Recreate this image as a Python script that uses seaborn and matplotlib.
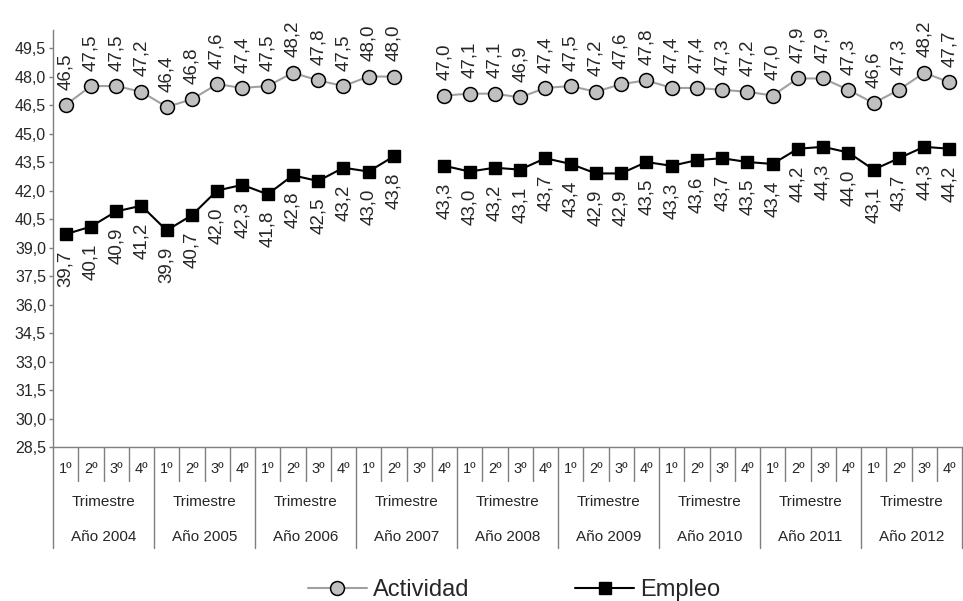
import matplotlib
matplotlib.use("Agg")
import matplotlib.pyplot as plt
from matplotlib.lines import Line2D
from matplotlib.ticker import FuncFormatter
import numpy as np
import pandas as pd
import seaborn as sns

# datos
anios = ['Año 2004', 'Año 2005', 'Año 2006', 'Año 2007', 'Año 2008',
         'Año 2009', 'Año 2010', 'Año 2011', 'Año 2012']
trimestres = ['1º', '2º', '3º', '4º']
actividad = [46.5, 47.5, 47.5, 47.2, 46.4, 46.8, 47.6, 47.4,
             47.5, 48.2, 47.8, 47.5, 48.0, 48.0, np.nan, 47.0,
             47.1, 47.1, 46.9, 47.4, 47.5, 47.2, 47.6, 47.8,
             47.4, 47.4, 47.3, 47.2, 47.0, 47.9, 47.9, 47.3,
             46.6, 47.3, 48.2, 47.7]
empleo = [39.7, 40.1, 40.9, 41.2, 39.9, 40.7, 42.0, 42.3,
          41.8, 42.8, 42.5, 43.2, 43.0, 43.8, np.nan, 43.3,
          43.0, 43.2, 43.1, 43.7, 43.4, 42.9, 42.9, 43.5,
          43.3, 43.6, 43.7, 43.5, 43.4, 44.2, 44.3, 44.0,
          43.1, 43.7, 44.3, 44.2]

sns.set_theme(style="white")
plt.rcParams['font.family'] = ['Liberation Sans', 'DejaVu Sans']

n = len(actividad)
pos = np.arange(n)
# tramo: se corta la linea donde falta el dato
tramo = np.cumsum(np.isnan(actividad))
df = pd.concat([
    pd.DataFrame({'pos': pos, 'valor': actividad, 'serie': 'Actividad', 'tramo': tramo}),
    pd.DataFrame({'pos': pos, 'valor': empleo, 'serie': 'Empleo', 'tramo': tramo}),
]).dropna()

fig = plt.figure(figsize=(9.63, 6.01), dpi=100)
ax = fig.add_axes([53 / 963, 1 - 447 / 601, 909 / 963, 417 / 601])

gris = '#7f7f7f'
estilo_act = dict(color='#a0a0a0', linewidth=1.5, marker='o', markersize=10,
                  markerfacecolor='#c0c0c0', markeredgecolor='black',
                  markeredgewidth=1.1)
estilo_emp = dict(color='black', linewidth=1.5, marker='s', markersize=8,
                  markerfacecolor='black', markeredgecolor='black',
                  markeredgewidth=1.0)

d_act = df[df['serie'] == 'Actividad']
d_emp = df[df['serie'] == 'Empleo']
sns.lineplot(data=d_act, x='pos', y='valor', units='tramo', estimator=None,
             legend=False, ax=ax, **estilo_act)
sns.lineplot(data=d_emp, x='pos', y='valor', units='tramo', estimator=None,
             legend=False, ax=ax, **estilo_emp)

# etiquetas de datos
for x, v in zip(d_act['pos'], d_act['valor']):
    ax.annotate(f"{v:.1f}".replace('.', ','), (x, v), xytext=(0, 11),
                textcoords='offset points', rotation=90, ha='center',
                va='bottom', fontsize=13.5)
for x, v in zip(d_emp['pos'], d_emp['valor']):
    ax.annotate(f"{v:.1f}".replace('.', ','), (x, v), xytext=(0, -12),
                textcoords='offset points', rotation=90, ha='center',
                va='top', fontsize=13.5)

ax.set_xlim(-0.5, n - 0.5)
ax.set_ylim(28.5, 50.45)
ax.set_yticks(np.arange(28.5, 50.0, 1.5))
ax.yaxis.set_major_formatter(FuncFormatter(lambda v, p: f"{v:.1f}".replace('.', ',')))
ax.set_xticks([])
ax.set_xlabel('')
ax.set_ylabel('')
ax.tick_params(axis='y', left=True, length=3, width=1, color=gris,
               labelsize=11.5, pad=2)
sns.despine(ax=ax, top=True, right=True)
for s in ['left', 'bottom']:
    ax.spines[s].set_color(gris)
    ax.spines[s].set_linewidth(1)

# tabla de categorias bajo el eje
tr = ax.get_xaxis_transform()
for k in range(n + 1):
    b = k - 0.5
    y_fin = -0.242 if k % 4 == 0 else -0.0815
    ax.plot([b, b], [0, y_fin], transform=tr, clip_on=False, color=gris, lw=1)
for i in range(n):
    ax.text(i, -0.053, trimestres[i % 4], transform=tr, ha='center',
            va='center', fontsize=10.5)
for j, anio in enumerate(anios):
    c = j * 4 + 1.5
    ax.text(c, -0.132, 'Trimestre', transform=tr, ha='center', va='center',
            fontsize=11)
    ax.text(c, -0.216, anio, transform=tr, ha='center', va='center',
            fontsize=11)

handles = [Line2D([], [], **estilo_act), Line2D([], [], **estilo_emp)]
fig.legend(handles, ['Actividad', 'Empleo'], loc='center',
           bbox_to_anchor=(514 / 963, 1 - 590 / 601), ncol=2, frameon=False,
           fontsize=17, handlelength=2.5, handletextpad=0.25,
           columnspacing=4.5, borderpad=0)

fig.savefig('out.png', dpi=100)
